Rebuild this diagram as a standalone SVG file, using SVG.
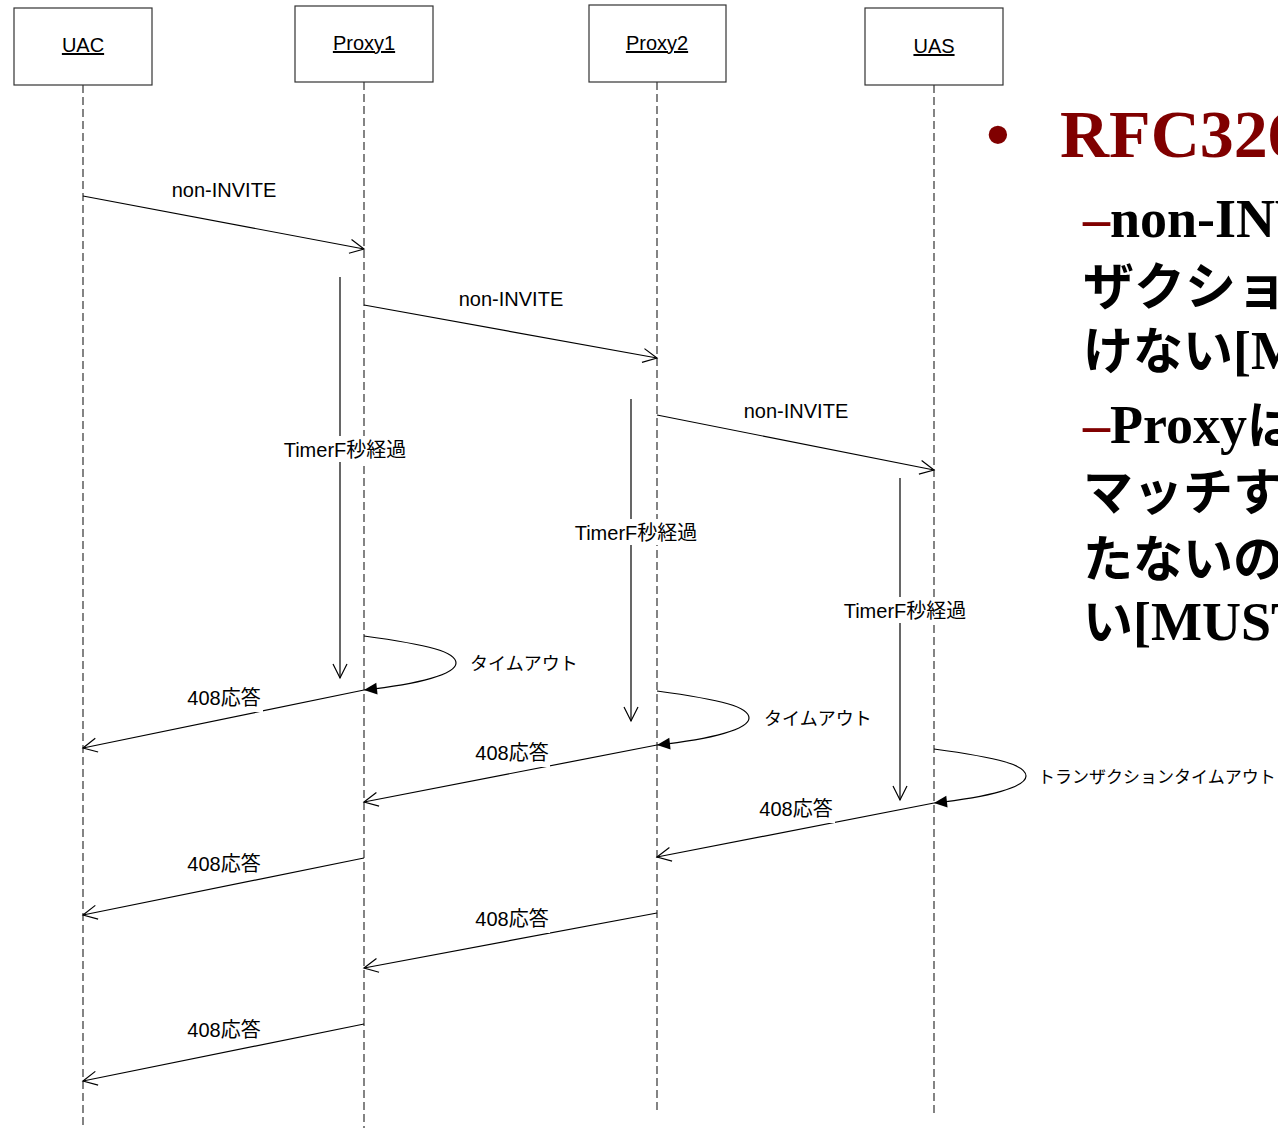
<svg xmlns="http://www.w3.org/2000/svg" width="1278" height="1128" viewBox="0 0 1278 1128">
<style>
.box{fill:#fff;stroke:#333;stroke-width:1.2}
.life{stroke:#333;stroke-width:1.2;stroke-dasharray:8,4;fill:none}
.msg{stroke:#000;stroke-width:1.2;fill:none}
.lbl{font-family:"Liberation Sans","Noto Sans CJK JP",sans-serif;font-size:20px;fill:#000}
.nm{font-family:"Liberation Sans","Noto Sans CJK JP",sans-serif;font-size:20px;fill:#000;text-anchor:middle;text-decoration:underline}
.bg{fill:#fff}
.ser{font-family:"Liberation Serif",serif;font-weight:bold}
.jp{font-family:"Noto Sans CJK JP",sans-serif;font-weight:bold}
.red{fill:#800000}
</style>
<defs>
<marker id="open" markerUnits="userSpaceOnUse" markerWidth="20" markerHeight="20" viewBox="-16 -10 20 20" refX="0" refY="0" orient="auto" overflow="visible"><path d="M-14,-7 L0,0 L-14,7" fill="none" stroke="#000" stroke-width="1.2"/></marker>
<marker id="filled" markerUnits="userSpaceOnUse" markerWidth="20" markerHeight="20" viewBox="-16 -10 20 20" refX="0" refY="0" orient="auto" overflow="visible"><path d="M-13,-6 L0,0 L-13,6 Z" fill="#000"/></marker>
</defs>
<rect width="1278" height="1128" fill="#fff"/>

<g id="lifelines">
<line class="life" x1="83" y1="85" x2="83" y2="1128"/>
<line class="life" x1="364" y1="82" x2="364" y2="1128"/>
<line class="life" x1="657" y1="82" x2="657" y2="1113"/>
<line class="life" x1="934" y1="85" x2="934" y2="1113"/>
</g>

<g id="UAC"><rect class="box" x="14" y="8" width="138" height="77"/><text class="nm" x="83" y="52">UAC</text></g>
<g id="Proxy1"><rect class="box" x="295" y="6" width="138" height="76"/><text class="nm" x="364" y="50">Proxy1</text></g>
<g id="Proxy2"><rect class="box" x="589" y="5" width="137" height="77"/><text class="nm" x="657" y="50">Proxy2</text></g>
<g id="UAS"><rect class="box" x="865" y="8" width="138" height="77"/><text class="nm" x="934" y="53">UAS</text></g>

<g id="connectors">
<line class="msg" x1="83" y1="196" x2="364" y2="249" marker-end="url(#open)"/>
<text class="lbl" x="224" y="197" text-anchor="middle">non-INVITE</text>
<line class="msg" x1="364" y1="305" x2="657" y2="358" marker-end="url(#open)"/>
<text class="lbl" x="511" y="306" text-anchor="middle">non-INVITE</text>
<line class="msg" x1="657" y1="415" x2="934" y2="470" marker-end="url(#open)"/>
<text class="lbl" x="796" y="418" text-anchor="middle">non-INVITE</text>

<line class="msg" x1="340" y1="277" x2="340" y2="678" marker-end="url(#open)"/>
<rect class="bg" x="282" y="436" width="126" height="26"/>
<text class="lbl" x="345" y="457" text-anchor="middle">TimerF秒経過</text>
<line class="msg" x1="631" y1="399" x2="631" y2="721" marker-end="url(#open)"/>
<rect class="bg" x="573" y="519" width="126" height="26"/>
<text class="lbl" x="636" y="540" text-anchor="middle">TimerF秒経過</text>
<line class="msg" x1="900" y1="478" x2="900" y2="800" marker-end="url(#open)"/>
<rect class="bg" x="842" y="597" width="126" height="26"/>
<text class="lbl" x="905" y="618" text-anchor="middle">TimerF秒経過</text>

<path class="msg" d="M364,636 C430,645 456,652 456,663 C456,674 420,684 364,690" marker-end="url(#filled)"/>
<text class="lbl" x="470" y="670" style="font-size:18px">タイムアウト</text>
<path class="msg" d="M657,691 C723,700 749,707 749,718 C749,729 713,739 657,745" marker-end="url(#filled)"/>
<text class="lbl" x="764" y="725" style="font-size:18px">タイムアウト</text>
<path class="msg" d="M934,749 C1000,758 1026,765 1026,776 C1026,787 990,797 934,803" marker-end="url(#filled)"/>
<text class="lbl" x="1038" y="783" style="font-size:17px">トランザクションタイムアウト</text>

<line class="msg" x1="364" y1="690" x2="83" y2="748" marker-end="url(#open)"/>
<rect class="bg" x="187" y="684" width="76" height="28"/>
<text class="lbl" x="224" y="705" text-anchor="middle">408応答</text>
<line class="msg" x1="657" y1="745" x2="364" y2="802" marker-end="url(#open)"/>
<rect class="bg" x="474" y="739" width="76" height="28"/>
<text class="lbl" x="512" y="760" text-anchor="middle">408応答</text>
<line class="msg" x1="934" y1="803" x2="657" y2="857" marker-end="url(#open)"/>
<rect class="bg" x="759" y="795" width="76" height="28"/>
<text class="lbl" x="796" y="816" text-anchor="middle">408応答</text>
<line class="msg" x1="364" y1="858" x2="83" y2="915" marker-end="url(#open)"/>
<rect class="bg" x="187" y="850" width="76" height="28"/>
<text class="lbl" x="224" y="871" text-anchor="middle">408応答</text>
<line class="msg" x1="657" y1="913" x2="364" y2="968" marker-end="url(#open)"/>
<rect class="bg" x="474" y="905" width="76" height="28"/>
<text class="lbl" x="512" y="926" text-anchor="middle">408応答</text>
<line class="msg" x1="364" y1="1024" x2="83" y2="1081" marker-end="url(#open)"/>
<rect class="bg" x="187" y="1016" width="76" height="28"/>
<text class="lbl" x="224" y="1037" text-anchor="middle">408応答</text>
</g>

<g id="slide-text">
<text class="ser red" x="986" y="157" font-size="68">•</text>
<text class="ser red" x="1060" y="157" font-size="68">RFC326</text>
<text x="1083" y="237" font-size="54"><tspan class="ser red">–</tspan><tspan class="ser">non-INV</tspan></text>
<text class="jp" x="1083" y="305" font-size="51">ザクション</text>
<text x="1083" y="369" font-size="50"><tspan class="jp">けない</tspan><tspan class="ser" font-size="54" font-weight="normal">[</tspan><tspan class="ser" font-size="54">M</tspan></text>
<text x="1083" y="443" font-size="54"><tspan class="ser red">–</tspan><tspan class="ser">Proxy</tspan><tspan class="jp" font-size="50">は</tspan></text>
<text class="jp" x="1083" y="510" font-size="50">マッチする</text>
<text class="jp" x="1083" y="577" font-size="50">たないの</text>
<text x="1083" y="640" font-size="50"><tspan class="jp">い</tspan><tspan class="ser" font-size="54" font-weight="normal">[</tspan><tspan class="ser" font-size="54">MUST</tspan></text>
</g>
</svg>
